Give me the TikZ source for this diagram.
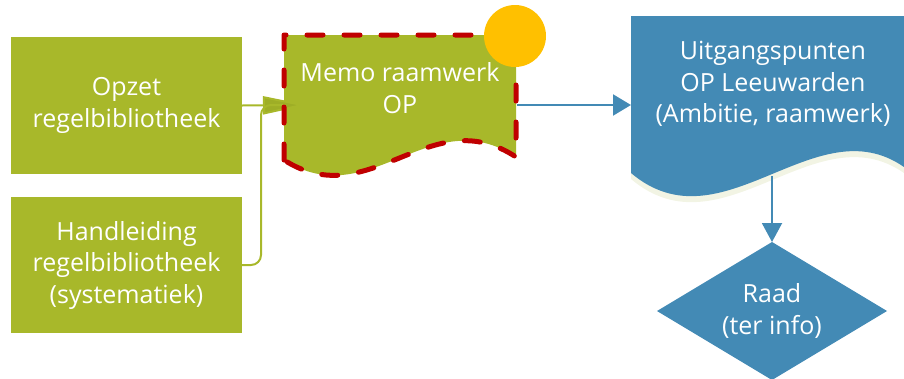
\documentclass[tikz,border=0pt]{standalone}
\usepackage{fontspec}
\setmainfont{Open Sans}
\usetikzlibrary{arrows.meta}
\definecolor{olv}{RGB}{168,184,42}
\definecolor{olvd}{RGB}{158,174,38}
\definecolor{blu}{RGB}{67,138,181}
\definecolor{redd}{RGB}{192,0,0}
\definecolor{gold}{RGB}{255,192,0}
\definecolor{shad}{RGB}{242,244,228}
\begin{document}
\begin{tikzpicture}[x=1pt,y=-1pt,
  txt/.style={text=white,font=\fontsize{25}{31.5}\selectfont,align=center,inner sep=0pt},
  gbox/.style={txt,fill=olv,minimum width=231pt,minimum height=137pt},
  gline/.style={draw=olv,line width=2pt},
  bline/.style={draw=blu,line width=2pt},
  redborder/.style={draw=redd,line width=5pt,dash pattern=on 16pt off 21pt,line cap=round,line join=round}]
\useasboundingbox (0,0) rectangle (904,378);
% left boxes
\node[gbox] (opzet) at (126.5,105.5) {Opzet\\regelbibliotheek};
\node[gbox,minimum height=136pt] (hand) at (126.5,265) {Handleiding\\regelbibliotheek\\(systematiek)};
% memo document
\fill[olv] (284,35) -- (516,35) -- (516,157) .. controls (430,100) and (370,215) .. (284,160) -- cycle;
\node[txt] (memo) at (400,88) {Memo raamwerk\\OP};
\coordinate (memoin) at (307,105);
\coordinate (memoout) at (517,105);
% green connectors
\draw[gline,-{Triangle[length=44pt,width=18pt,fill=olvd]}] (opzet.east) -- (memoin);
\draw[gline,rounded corners=10pt] (hand.east) -- (261,265) -- (261,105) -- (285,105);
% dashed border
\draw[redborder] (284,160) -- (284,35) -- (516,35) -- (516,157) .. controls (430,100) and (370,215) .. (284,160);
% circle
\node[circle,fill=gold,minimum size=62pt,inner sep=0pt] (dot) at (515,36) {};
% blue document
\fill[shad] (631,22) -- (904,22) -- (904,173) .. controls (815,111) and (722,256) .. (631,179) -- cycle;
\fill[blu] (631,16) -- (904,16) -- (904,167) .. controls (815,105) and (722,250) .. (631,173) -- cycle;
\node[txt] (uit) at (773,84) {Uitgangspunten\\OP Leeuwarden\\(Ambitie, raamwerk)};
\coordinate (docin) at (631,105);
\coordinate (docout) at (772,176);
\draw[bline,-{Triangle[length=18pt,width=21pt]}] (memoout) -- (docin);
% diamond
\coordinate (raadtop) at (772,242);
\coordinate (raadright) at (887,311);
\coordinate (raadbottom) at (772,380);
\coordinate (raadleft) at (657,311);
\fill[blu] (raadtop) -- (raadright) -- (raadbottom) -- (raadleft) -- cycle;
\node[txt] (raad) at (772,311) {Raad\\(ter info)};
\draw[bline,-{Triangle[length=19pt,width=20pt]}] (docout) -- (raadtop);
\end{tikzpicture}
\end{document}
